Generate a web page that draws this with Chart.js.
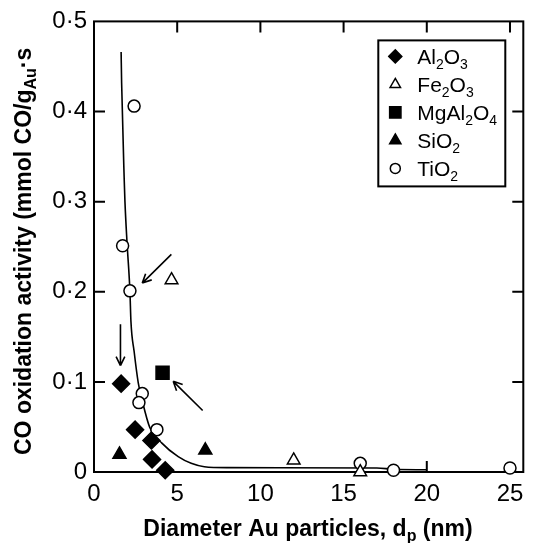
<!DOCTYPE html>
<html>
<head>
<meta charset="utf-8">
<script src="https://cdn.jsdelivr.net/npm/chart.js@4.4.1/dist/chart.umd.min.js"></script>
<style>
  html, body { margin: 0; padding: 0; background: #fff; }
  #wrap { width: 534px; height: 543px; }
</style>
</head>
<body>
<div id="wrap"><canvas id="chart"></canvas></div>
<script>
// Au particle diameter (nm) vs CO oxidation activity, one pair of lists per support
const al2o3X = [1.63, 2.47, 3.45, 3.49, 4.28];
const al2o3Y = [0.098, 0.047, 0.035, 0.014, 0.002];
const fe2o3X = [4.66, 12.0, 16.0];
const fe2o3Y = [0.213, 0.013, 0.0];
const mgal2o4X = [4.12];
const mgal2o4Y = [0.110];
const sio2X = [1.53, 6.69];
const sio2Y = [0.0195, 0.024];
const tio2X = [2.41, 1.72, 2.16, 2.90, 2.70, 3.78, 16.0, 18.0, 25.0];
const tio2Y = [0.406, 0.251, 0.201, 0.087, 0.077, 0.047, 0.0096, 0.002, 0.0044];

// trend line through the data
const fitX = [1.63, 1.66, 1.82, 1.86, 1.98, 2.16, 2.22, 2.41, 2.66, 2.90, 3.34, 4.08, 5.06, 5.84, 6.63, 8.0, 17.0, 18.0, 20.0];
const fitY = [0.466, 0.432, 0.322, 0.300, 0.256, 0.200, 0.167, 0.134, 0.099, 0.079, 0.050, 0.032, 0.017, 0.0096, 0.0058, 0.0048, 0.0045, 0.003, 0.0025];

// arrows, tail -> head, in axis units
const arrowFrom = [[1.59, 0.164], [4.65, 0.2415], [6.53, 0.0683]];
const arrowTo = [[1.59, 0.118], [2.90, 0.2096], [4.76, 0.1006]];

const xTicks = [0, 5, 10, 15, 20, 25];
const yTicks = [0, 0.1, 0.2, 0.3, 0.4, 0.5];
const bottomTicks = [20];

// {..} marks a subscript
const supportNames = ['Al{2}O{3}', 'Fe{2}O{3}', 'MgAl{2}O{4}', 'SiO{2}', 'TiO{2}'];
const xTitle = 'Diameter Au particles, d{p} (nm)';
const yTitle = 'CO oxidation activity (mmol CO/g{Au}·s';

const FONT = '"Liberation Sans", Arial, sans-serif';
const TICK_FONT = '"Liberation Sans Narrow", "Liberation Sans", sans-serif';

const pts = (xs, ys) => xs.map((v, i) => ({ x: v, y: ys[i] }));

// draws text with {sub} pieces; returns width
function richText(ctx, str, x, y, size, weight, dry) {
    const parts = str.split(/(\{[^}]*\})/).filter(Boolean);
    let cx = x;
    parts.forEach((p) => {
        const sub = p[0] === '{';
        const t = sub ? p.slice(1, -1) : p;
        const s = sub ? Math.round(size * 0.68) : size;
        ctx.font = `${weight} ${s}px ${FONT}`;
        if (!dry) ctx.fillText(t, cx, sub ? y + size * 0.22 : y);
        cx += ctx.measureText(t).width;
    });
    return cx - x;
}

const styles = [
    { pointStyle: 'rectRot', radius: 8.5, fill: '#000', legendR: 6.5 },
    { pointStyle: 'triangle', radius: 7.3, fill: '#fff', legendR: 6 },
    { pointStyle: 'rect', radius: 9.2, fill: '#000', legendR: 8 },
    { pointStyle: 'triangle', radius: 7.5, fill: '#000', legendR: 6.5 },
    { pointStyle: 'circle', radius: 6, fill: '#fff', legendR: 5 },
];
const series = [pts(al2o3X, al2o3Y), pts(fe2o3X, fe2o3Y), pts(mgal2o4X, mgal2o4Y), pts(sio2X, sio2Y), pts(tio2X, tio2Y)];

const datasets = series.map((d, i) => ({
    label: supportNames[i],
    data: d,
    showLine: false,
    pointStyle: styles[i].pointStyle,
    pointRadius: styles[i].radius,
    pointBackgroundColor: styles[i].fill,
    pointBorderColor: '#000',
    pointBorderWidth: 1.5,
    clip: false,
    order: 1,
}));
datasets.push({
    label: 'fit',
    data: pts(fitX, fitY),
    showLine: true,
    borderColor: '#000',
    borderWidth: 1.6,
    pointRadius: 0,
    cubicInterpolationMode: 'monotone',
    order: 5,
});

const decor = {
    id: 'decor',
    beforeDatasetsDraw(chart) {
        const { ctx, chartArea: a, scales: { x, y } } = chart;
        ctx.save();
        ctx.strokeStyle = '#000';
        ctx.lineWidth = 2;
        ctx.strokeRect(a.left, a.top, a.right - a.left, a.bottom - a.top);
        ctx.beginPath();
        yTicks.forEach((v) => {
            if (v <= 0 || v >= 0.5) return;
            const py = y.getPixelForValue(v);
            ctx.moveTo(a.left, py); ctx.lineTo(a.left + 11, py);
            ctx.moveTo(a.right, py); ctx.lineTo(a.right - 11, py);
        });
        xTicks.forEach((v) => {
            if (v <= 0) return;
            const px = x.getPixelForValue(v);
            ctx.moveTo(px, a.top); ctx.lineTo(px, a.top + 11);
        });
        bottomTicks.forEach((v) => {
            const px = x.getPixelForValue(v);
            ctx.moveTo(px, a.bottom); ctx.lineTo(px, a.bottom - 11);
        });
        ctx.stroke();
        ctx.restore();
    },
    afterDatasetsDraw(chart) {
        const { ctx, chartArea: a, scales: { x, y } } = chart;
        ctx.save();
        ctx.strokeStyle = '#000';
        ctx.fillStyle = '#000';

        // arrows
        ctx.lineWidth = 1.6;
        arrowFrom.forEach((f, i) => {
            const x0 = x.getPixelForValue(f[0]), y0 = y.getPixelForValue(f[1]);
            const x1 = x.getPixelForValue(arrowTo[i][0]), y1 = y.getPixelForValue(arrowTo[i][1]);
            const ang = Math.atan2(y1 - y0, x1 - x0);
            ctx.beginPath();
            ctx.moveTo(x0, y0); ctx.lineTo(x1, y1);
            [-0.45, 0.45].forEach((d) => {
                ctx.moveTo(x1, y1);
                ctx.lineTo(x1 - 10 * Math.cos(ang + d), y1 - 10 * Math.sin(ang + d));
            });
            ctx.stroke();
        });

        // legend box
        const bx = a.right - 145, by = a.top + 19, bw = 127, bh = 146;
        ctx.lineWidth = 2;
        ctx.fillStyle = '#fff';
        ctx.fillRect(bx, by, bw, bh);
        ctx.strokeRect(bx, by, bw, bh);
        ctx.textBaseline = 'alphabetic';
        supportNames.forEach((name, i) => {
            const cy = by + 16 + i * 28;
            const st = styles[i];
            ctx.fillStyle = st.fill;
            ctx.strokeStyle = '#000';
            ctx.lineWidth = 1.5;
            Chart.helpers.drawPoint(ctx, { pointStyle: st.pointStyle, radius: st.legendR, rotation: 0, borderWidth: 1.5 }, bx + 17, cy);
            ctx.fillStyle = '#000';
            richText(ctx, name, bx + 39, cy + 8, 21, 'normal');
        });

        // axis titles
        ctx.fillStyle = '#000';
        const xw = richText(ctx, xTitle, 0, 0, 23, 'bold', true);
        richText(ctx, xTitle, 308 - xw / 2, 536, 23, 'bold');
        ctx.translate(31, 455);
        ctx.rotate(-Math.PI / 2);
        richText(ctx, yTitle, 0, 0, 23, 'bold');
        ctx.restore();
    },
};

new Chart(document.getElementById('chart'), {
    type: 'scatter',
    data: { datasets },
    options: {
        responsive: true,
        maintainAspectRatio: false,
        animation: false,
        devicePixelRatio: 1,
        events: [],
        layout: { padding: { top: 18, right: 1, left: 0, bottom: 0 } },
        plugins: { legend: { display: false }, tooltip: { enabled: false } },
        scales: {
            x: {
                type: 'linear',
                min: 0,
                max: 25.8,
                afterFit: (s) => { s.height = 71; },
                afterBuildTicks: (s) => { s.ticks = xTicks.map((v) => ({ value: v })); },
                grid: { display: false, drawTicks: false },
                border: { display: false },
                ticks: { color: '#000', padding: 8, font: { family: TICK_FONT, size: 24 } },
            },
            y: {
                type: 'linear',
                min: 0,
                max: 0.5,
                afterFit: (s) => { s.width = 94; },
                afterBuildTicks: (s) => { s.ticks = yTicks.map((v) => ({ value: v })); },
                grid: { display: false, drawTicks: false },
                border: { display: false },
                ticks: {
                    color: '#000',
                    padding: 7,
                    font: { family: TICK_FONT, size: 24 },
                    callback: (v) => (v === 0 ? '0' : v.toFixed(1).replace('.', '·')),
                },
            },
        },
    },
    plugins: [decor],
});
</script>
</body>
</html>
